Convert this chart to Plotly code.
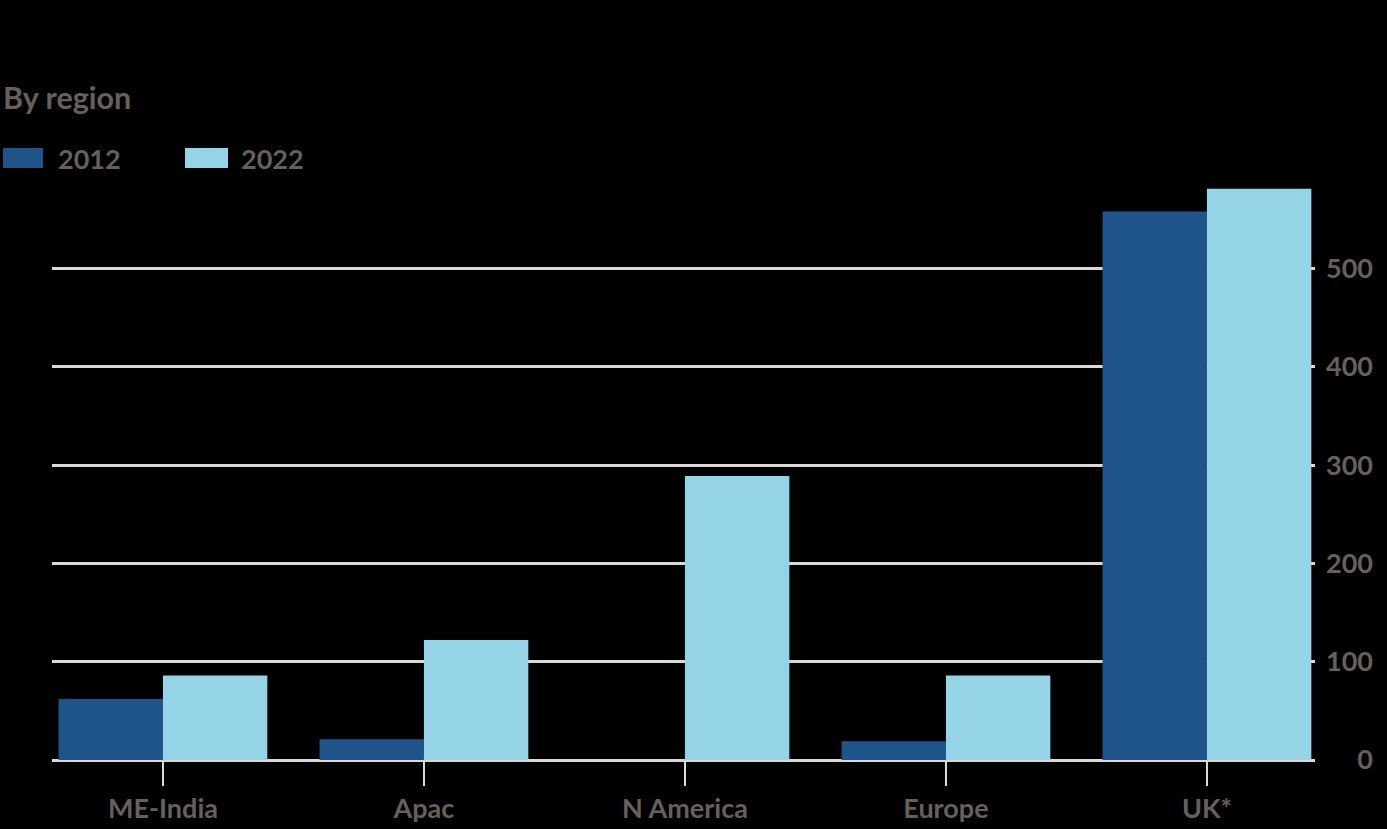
import plotly.graph_objects as go

categories = ["ME-India", "Apac", "N America", "Europe", "UK*"]
series_names = ["2012", "2022"]
values_2012 = [62, 21, 0, 19, 558]
values_2022 = [86, 122, 289, 86, 581]
y_tickvals = [0, 100, 200, 300, 400, 500]
y_ticktext = ["0", "100", "200", "300", "400", "500"]
subtitle = "By region"

colors = ["#1f548b", "#95d3e7"]
text_color = "#66605c"
grid_color = "#dcd8d4"
font_family = "Lato, 'Open Sans', sans-serif"
FW = 700

W, H = 1387, 829
L, R_EDGE, T, B = 52, 1382, 180, 760


def px(x):
    return (x - L) / (R_EDGE - L)


def py(y):
    return (B - y) / (B - T)


fig = go.Figure()
for name, vals, col in zip(series_names, [values_2012, values_2022], colors):
    fig.add_trace(go.Bar(x=categories, y=vals, name=name, marker=dict(color=col, line=dict(width=0)),
                         showlegend=False))

fig.update_layout(
    width=W, height=H,
    margin=dict(l=L, r=W - R_EDGE, t=T, b=H - B, pad=0),
    paper_bgcolor="black", plot_bgcolor="black",
    barmode="group", bargap=0.2, bargroupgap=0,
    font=dict(family=font_family, color=text_color, size=27, weight=FW),
    xaxis=dict(domain=[0, px(1315)], range=[-0.425, 4.414], showgrid=False, zeroline=False,
               showline=False, ticks="outside", ticklen=25, tickwidth=2, tickcolor=grid_color,
               tickfont=dict(size=27, color=text_color, weight=FW)),
    yaxis=dict(range=[0, 590], anchor="free", position=px(1373), side="left",
               tickvals=y_tickvals, ticktext=y_ticktext, showgrid=True, gridcolor=grid_color,
               gridwidth=2.5, zeroline=True, zerolinecolor=grid_color, zerolinewidth=2.5,
               showline=False, ticks="", tickfont=dict(size=27, color=text_color, weight=FW)),
)

# subtitle
fig.add_annotation(text=subtitle, xref="paper", yref="paper", x=px(1), y=py(97),
                   xanchor="left", yanchor="middle", showarrow=False,
                   font=dict(size=30.5, color=text_color, weight=FW))

# legend (manual)
legend_items = [(3, 43, 56), (185, 228, 239)]
for (x0, x1, tx), name, col in zip(legend_items, series_names, colors):
    fig.add_shape(type="rect", xref="paper", yref="paper", x0=px(x0), x1=px(x1),
                  y0=py(168), y1=py(148), fillcolor=col, line=dict(width=0))
    fig.add_annotation(text=name, xref="paper", yref="paper", x=px(tx), y=py(158),
                       xanchor="left", yanchor="middle", showarrow=False,
                       font=dict(size=27, color=text_color, weight=FW))

fig.write_html("out.html", config={"displayModeBar": False},
               post_script="document.body.style.margin='0';document.body.style.background='black';")
